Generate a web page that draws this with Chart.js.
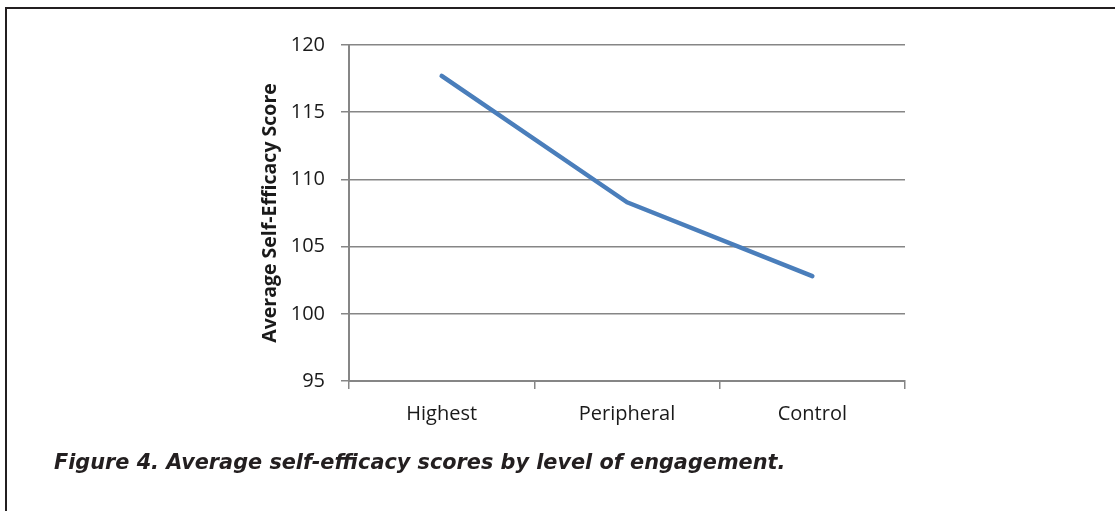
<!DOCTYPE html>
<html>
<head>
<meta charset="utf-8">
<script src="https://cdn.jsdelivr.net/npm/chart.js@4.4.0/dist/chart.umd.min.js"></script>
<style>
  html, body { margin: 0; padding: 0; background: #fff; }
  #wrap { position: relative; width: 1115px; height: 511px; overflow: hidden; }
  #frame { position: absolute; left: 5px; top: 7px; right: 0; bottom: 0;
           border-left: 2px solid #231f20; border-top: 2px solid #231f20; }
  #chart { position: absolute; left: 0; top: 0; }
  #caption { position: absolute; left: 54px; top: 450px; margin: 0;
             font-family: "DejaVu Sans", sans-serif; font-weight: 700; font-style: italic;
             font-size: 20.8px; color: #231f20; white-space: nowrap; }
</style>
</head>
<body>
<div id="wrap">
  <div id="frame"></div>
  <canvas id="chart" width="1115" height="511"></canvas>
  <p id="caption">Figure 4. Average self-efficacy scores by level of engagement.</p>
</div>
<script>
const categories = ['Highest', 'Peripheral', 'Control'];
const scores = [117.7, 108.3, 102.8];
const yTicks = [95, 100, 105, 110, 115, 120];

const axisGray = '#868686';
const tickFont = { family: 'Open Sans', size: 20 };

const ctx = document.getElementById('chart').getContext('2d');
new Chart(ctx, {
    type: 'line',
    data: {
        labels: categories,
        datasets: [{
            label: 'Average Self-Efficacy Score',
            data: scores,
            borderColor: '#4a7ebb',
            borderWidth: 4.5,
            pointRadius: 0,
            tension: 0,
            borderCapStyle: 'round',
            borderJoinStyle: 'round',
            fill: false
        }]
    },
    options: {
        responsive: false,
        animation: false,
        layout: {
            padding: { left: 250, right: 210, top: 45, bottom: 80 }
        },
        plugins: {
            legend: { display: false },
            tooltip: { enabled: false }
        },
        scales: {
            x: {
                offset: true,
                grid: {
                    offset: true,
                    drawOnChartArea: false,
                    color: axisGray,
                    tickLength: 8,
                    lineWidth: 1.5
                },
                border: { color: axisGray, width: 2 },
                ticks: { font: tickFont, color: '#1a1a1a', padding: 13 },
                afterFit: function(scale) { scale.height = 50; }
            },
            y: {
                min: 95,
                max: 120,
                afterBuildTicks: function(scale) {
                    scale.ticks = yTicks.map(v => ({ value: v }));
                },
                grid: { color: axisGray, tickLength: 8, lineWidth: 1.5 },
                border: { color: axisGray, width: 2 },
                ticks: { font: tickFont, color: '#1a1a1a', padding: 16 },
                title: {
                    display: true,
                    text: 'Average Self-Efficacy Score',
                    font: { family: 'Open Sans', size: 19.5, weight: 'bold' },
                    color: '#1a1a1a',
                    padding: { top: 9, bottom: 0 }
                },
                afterFit: function(scale) { scale.width = 99; }
            }
        }
    }
});
</script>
</body>
</html>
